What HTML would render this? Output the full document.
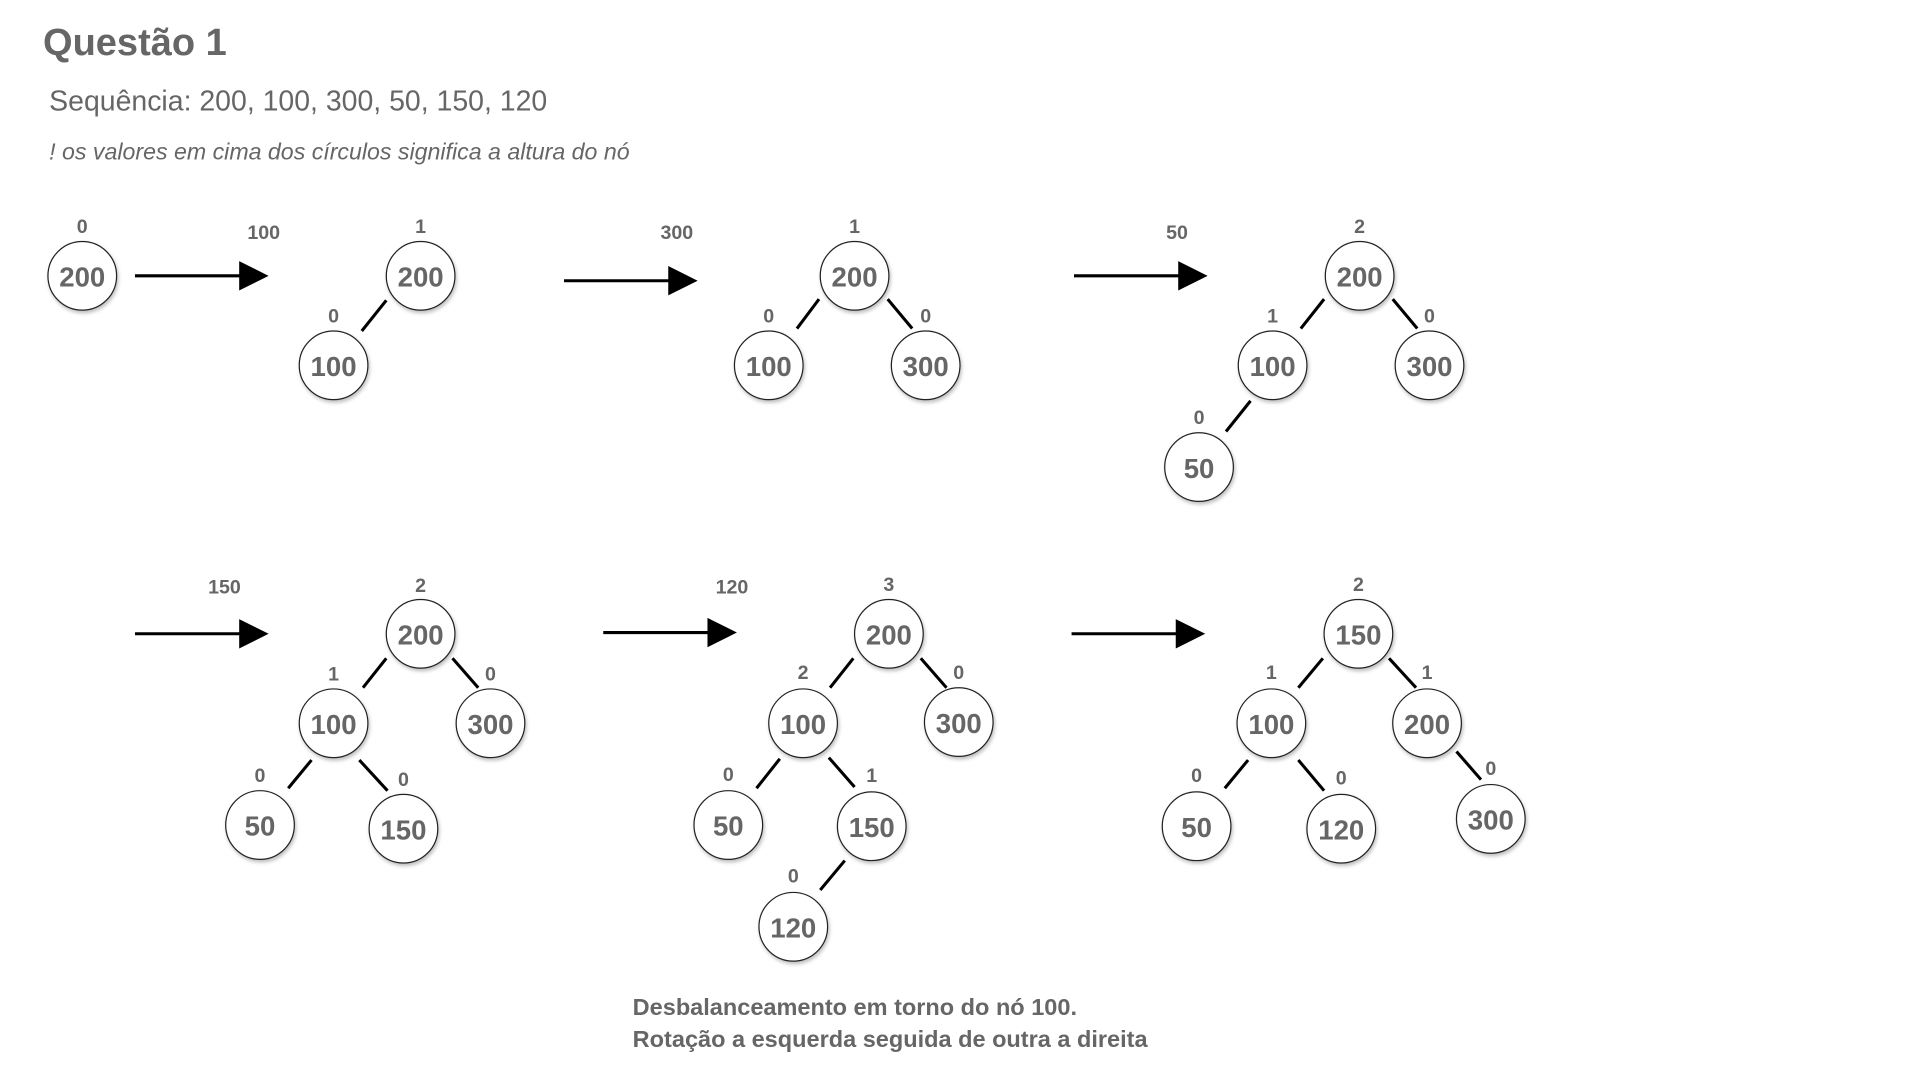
<!DOCTYPE html>
<html><head><meta charset="utf-8"><style>
html,body{margin:0;padding:0;background:#fff;width:1920px;height:1080px;overflow:hidden}
svg{display:block}
text{font-family:"Liberation Sans",sans-serif;fill:#666}
.n{font-size:22.5px;font-weight:bold;text-anchor:middle;dominant-baseline:central}
.h{font-size:16px;font-weight:bold;text-anchor:middle}
.e{stroke:#000;stroke-width:2.5}
.c{fill:#fff;stroke:#222;stroke-width:1}
</style></head><body>
<svg width="1920" height="1080" viewBox="0 0 1566 881" xmlns="http://www.w3.org/2000/svg">
<defs><filter id="s" x="-20%" y="-20%" width="150%" height="150%"><feDropShadow dx="1" dy="2" stdDeviation="1.5" flood-opacity="0.25"/></filter></defs>
<text x="35" y="45" style="font-size:31px;font-weight:bold">Questão 1</text>
<text x="40" y="90" style="font-size:23.2px">Sequência: 200, 100, 300, 50, 150, 120</text>
<text x="40" y="130" style="font-size:18.9px;font-style:italic">! os valores em cima dos círculos significa a altura do nó</text>

<g id="arrows">
<line class="e" x1="110" y1="225" x2="200" y2="225"/><polygon points="195,213 219,225 195,237" fill="#000"/>
<line class="e" x1="460" y1="229" x2="550" y2="229"/><polygon points="545,217 569,229 545,241" fill="#000"/>
<line class="e" x1="876" y1="225" x2="966" y2="225"/><polygon points="961,213 985,225 961,237" fill="#000"/>
<line class="e" x1="110" y1="517" x2="200" y2="517"/><polygon points="195,505 219,517 195,529" fill="#000"/>
<line class="e" x1="492" y1="516" x2="582" y2="516"/><polygon points="577,504 601,516 577,528" fill="#000"/>
<line class="e" x1="874" y1="517" x2="964" y2="517"/><polygon points="959,505 983,517 959,529" fill="#000"/>
</g>
<text class="h" x="215" y="195">100</text>
<text class="h" x="552" y="195">300</text>
<text class="h" x="960" y="195">50</text>
<text class="h" x="183" y="484">150</text>
<text class="h" x="597" y="484">120</text>

<g>
<line class="e" x1="315" y1="245" x2="295" y2="270"/>
<line class="e" x1="668" y1="244" x2="650" y2="268"/><line class="e" x1="724" y1="244" x2="744" y2="268"/>
<line class="e" x1="1080" y1="244" x2="1061" y2="268"/><line class="e" x1="1136" y1="244" x2="1156" y2="268"/><line class="e" x1="1020" y1="327" x2="1000" y2="352"/>
<line class="e" x1="315" y1="537" x2="296" y2="561"/><line class="e" x1="369" y1="537" x2="390" y2="561"/><line class="e" x1="254" y1="620" x2="235" y2="643"/><line class="e" x1="293" y1="620" x2="316" y2="645"/>
<line class="e" x1="696" y1="537" x2="677" y2="561"/><line class="e" x1="751" y1="537" x2="772" y2="561"/><line class="e" x1="636" y1="619" x2="617" y2="643"/><line class="e" x1="676" y1="618" x2="697" y2="642"/><line class="e" x1="689" y1="702" x2="669" y2="726"/>
<line class="e" x1="1079" y1="537" x2="1059" y2="561"/><line class="e" x1="1133" y1="537" x2="1155" y2="561"/><line class="e" x1="1018" y1="620" x2="999" y2="643"/><line class="e" x1="1059" y1="620" x2="1080" y2="645"/><line class="e" x1="1188" y1="613" x2="1208" y2="636"/>
</g>

<text x="516" y="828" style="font-size:19.2px;font-weight:bold">Desbalanceamento em torno do nó 100.</text>
<text x="516" y="854" style="font-size:19.2px;font-weight:bold">Rotação a esquerda seguida de outra a direita</text>

<g>
<circle class="c" filter="url(#s)" cx="67" cy="225" r="28"/><text class="n" x="67" y="226">200</text><text class="h" x="67" y="190">0</text>
<circle class="c" filter="url(#s)" cx="343" cy="225" r="28"/><text class="n" x="343" y="226">200</text><text class="h" x="343" y="190">1</text>
<circle class="c" filter="url(#s)" cx="272" cy="298" r="28"/><text class="n" x="272" y="299">100</text><text class="h" x="272" y="263">0</text>
<circle class="c" filter="url(#s)" cx="697" cy="225" r="28"/><text class="n" x="697" y="226">200</text><text class="h" x="697" y="190">1</text>
<circle class="c" filter="url(#s)" cx="627" cy="298" r="28"/><text class="n" x="627" y="299">100</text><text class="h" x="627" y="263">0</text>
<circle class="c" filter="url(#s)" cx="755" cy="298" r="28"/><text class="n" x="755" y="299">300</text><text class="h" x="755" y="263">0</text>
<circle class="c" filter="url(#s)" cx="1109" cy="225" r="28"/><text class="n" x="1109" y="226">200</text><text class="h" x="1109" y="190">2</text>
<circle class="c" filter="url(#s)" cx="1038" cy="298" r="28"/><text class="n" x="1038" y="299">100</text><text class="h" x="1038" y="263">1</text>
<circle class="c" filter="url(#s)" cx="1166" cy="298" r="28"/><text class="n" x="1166" y="299">300</text><text class="h" x="1166" y="263">0</text>
<circle class="c" filter="url(#s)" cx="978" cy="381" r="28"/><text class="n" x="978" y="382">50</text><text class="h" x="978" y="346">0</text>

<circle class="c" filter="url(#s)" cx="343" cy="517" r="28"/><text class="n" x="343" y="518">200</text><text class="h" x="343" y="483">2</text>
<circle class="c" filter="url(#s)" cx="272" cy="590" r="28"/><text class="n" x="272" y="591">100</text><text class="h" x="272" y="555">1</text>
<circle class="c" filter="url(#s)" cx="400" cy="590" r="28"/><text class="n" x="400" y="591">300</text><text class="h" x="400" y="555">0</text>
<circle class="c" filter="url(#s)" cx="212" cy="673" r="28"/><text class="n" x="212" y="674">50</text><text class="h" x="212" y="638">0</text>
<circle class="c" filter="url(#s)" cx="329" cy="676" r="28"/><text class="n" x="329" y="677">150</text><text class="h" x="329" y="641">0</text>

<circle class="c" filter="url(#s)" cx="725" cy="517" r="28"/><text class="n" x="725" y="518">200</text><text class="h" x="725" y="482">3</text>
<circle class="c" filter="url(#s)" cx="655" cy="590" r="28"/><text class="n" x="655" y="591">100</text><text class="h" x="655" y="554">2</text>
<circle class="c" filter="url(#s)" cx="782" cy="589" r="28"/><text class="n" x="782" y="590">300</text><text class="h" x="782" y="554">0</text>
<circle class="c" filter="url(#s)" cx="594" cy="673" r="28"/><text class="n" x="594" y="674">50</text><text class="h" x="594" y="637">0</text>
<circle class="c" filter="url(#s)" cx="711" cy="674" r="28"/><text class="n" x="711" y="675">150</text><text class="h" x="711" y="638">1</text>
<circle class="c" filter="url(#s)" cx="647" cy="756" r="28"/><text class="n" x="647" y="757">120</text><text class="h" x="647" y="720">0</text>

<circle class="c" filter="url(#s)" cx="1108" cy="517" r="28"/><text class="n" x="1108" y="518">150</text><text class="h" x="1108" y="482">2</text>
<circle class="c" filter="url(#s)" cx="1037" cy="590" r="28"/><text class="n" x="1037" y="591">100</text><text class="h" x="1037" y="554">1</text>
<circle class="c" filter="url(#s)" cx="1164" cy="590" r="28"/><text class="n" x="1164" y="591">200</text><text class="h" x="1164" y="554">1</text>
<circle class="c" filter="url(#s)" cx="976" cy="674" r="28"/><text class="n" x="976" y="675">50</text><text class="h" x="976" y="638">0</text>
<circle class="c" filter="url(#s)" cx="1094" cy="676" r="28"/><text class="n" x="1094" y="677">120</text><text class="h" x="1094" y="640">0</text>
<circle class="c" filter="url(#s)" cx="1216" cy="668" r="28"/><text class="n" x="1216" y="669">300</text><text class="h" x="1216" y="632">0</text>
</g>
</svg>
</body></html>
